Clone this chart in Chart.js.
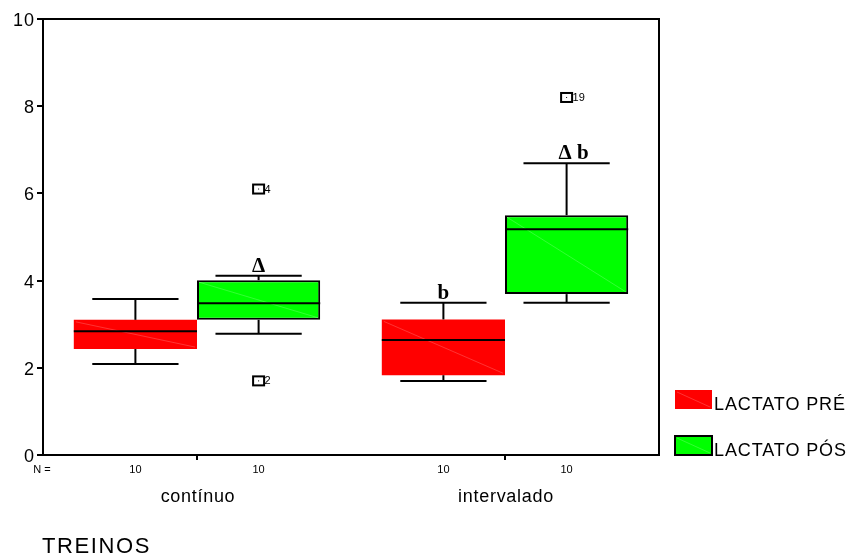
<!DOCTYPE html>
<html>
<head>
<meta charset="utf-8">
<script src="https://cdn.jsdelivr.net/npm/chart.js@4.4.1/dist/chart.umd.min.js"></script>
<style>
  html, body { margin: 0; padding: 0; background: #fff; }
  #wrap { width: 853px; height: 554px; position: relative; }
</style>
</head>
<body>
<div id="wrap"><canvas id="c" width="853" height="554"></canvas></div>
<script>
// ---- data ----
const categories = ['contínuo', 'intervalado'];
const seriesNames = ['LACTATO PRÉ', 'LACTATO PÓS'];
const axisTitle = 'TREINOS';
const yTicks = [0, 2, 4, 6, 8, 10];

const preMin = [2.09, 1.70];
const preQ1 = [2.43, 1.83];
const preMedian = [2.84, 2.64];
const preQ3 = [3.10, 3.11];
const preMax = [3.58, 3.49];
const preOutliers = [[], []];
const preN = [10, 10];
const preMarks = ['', 'b'];

const posMin = [2.78, 3.49];
const posQ1 = [3.10, 3.69];
const posMedian = [3.48, 5.18];
const posQ3 = [4.01, 5.50];
const posMax = [4.11, 6.69];
const posOutliers = [[{ v: 6.10, id: '4' }, { v: 1.70, id: '2' }], [{ v: 8.20, id: '19' }]];
const posN = [10, 10];
const posMarks = ['Δ', 'Δ b'];

const colors = ['#FF0000', '#00FF00'];

const groups = [
  { min: preMin, q1: preQ1, med: preMedian, q3: preQ3, max: preMax, out: preOutliers, n: preN, marks: preMarks },
  { min: posMin, q1: posQ1, med: posMedian, q3: posQ3, max: posMax, out: posOutliers, n: posN, marks: posMarks }
];

const font = '"Liberation Sans", Arial, sans-serif';

function line(ctx, x1, y1, x2, y2) {
  ctx.beginPath(); ctx.moveTo(x1, y1); ctx.lineTo(x2, y2); ctx.stroke();
}
function spaced(ctx, px) { try { ctx.letterSpacing = px + 'px'; } catch (e) {} }

const boxPlugin = {
  id: 'boxExtras',
  beforeDraw(chart) {
    spaced(chart.ctx, 1);
  },
  afterDatasetsDraw(chart) {
    const ctx = chart.ctx, ys = chart.scales.y, xs = chart.scales.x, area = chart.chartArea;
    ctx.save();
    spaced(ctx, 0);
    groups.forEach((g, di) => {
      const meta = chart.getDatasetMeta(di);
      meta.data.forEach((bar, i) => {
        const x = bar.x, w = bar.width, cap = w * 0.7;
        const yq1 = ys.getPixelForValue(g.q1[i]);
        const yq3 = ys.getPixelForValue(g.q3[i]);
        const ymed = ys.getPixelForValue(g.med[i]);
        const ymin = ys.getPixelForValue(g.min[i]);
        const ymax = ys.getPixelForValue(g.max[i]);
        ctx.strokeStyle = 'rgba(255,255,255,0.2)'; ctx.lineWidth = 1;
        line(ctx, x - w / 2 + 2, yq3 + 2, x + w / 2 - 2, yq1 - 2);
        ctx.strokeStyle = '#000'; ctx.lineWidth = 2;
        line(ctx, x, yq3, x, ymax);
        line(ctx, x - cap / 2, ymax, x + cap / 2, ymax);
        line(ctx, x, yq1, x, ymin);
        line(ctx, x - cap / 2, ymin, x + cap / 2, ymin);
        line(ctx, x - w / 2, ymed, x + w / 2, ymed);
        g.out[i].forEach(o => {
          const oy = ys.getPixelForValue(o.v);
          ctx.lineWidth = 2; ctx.strokeStyle = '#000';
          ctx.strokeRect(x - 5.5, oy - 4.5, 11, 9);
          ctx.fillStyle = '#000';
          ctx.fillRect(x - 0.5, oy - 0.5, 1, 1);
          ctx.font = '11px ' + font;
          ctx.textAlign = 'left'; ctx.textBaseline = 'middle';
          ctx.fillText(o.id, x + 6, oy + 0.5);
        });
        if (g.marks[i]) {
          ctx.fillStyle = '#000';
          ctx.font = 'bold 21px "Liberation Serif", "Times New Roman", serif';
          ctx.textAlign = 'center'; ctx.textBaseline = 'alphabetic';
          ctx.fillText(g.marks[i], x + (g.marks[i].length > 1 ? 7 : 0), ymax - 4);
        }
        ctx.fillStyle = '#000';
        ctx.font = '11px ' + font;
        ctx.textAlign = 'center'; ctx.textBaseline = 'middle';
        ctx.fillText(String(g.n[i]), x, area.bottom + 15);
      });
    });
    ctx.font = '11px ' + font;
    ctx.textAlign = 'center'; ctx.textBaseline = 'middle';
    ctx.fillText('N =', 42, area.bottom + 15);
    ctx.font = '18px ' + font;
    ctx.textAlign = 'center'; ctx.textBaseline = 'alphabetic';
    spaced(ctx, 0.7);
    categories.forEach((c, i) => {
      ctx.fillText(c, xs.getPixelForValue(i) + 1, area.bottom + 47);
    });
    ctx.font = '22px ' + font;
    ctx.textAlign = 'left';
    spaced(ctx, 1.6);
    ctx.fillText(axisTitle, area.left - 1, area.bottom + 98);
    spaced(ctx, 0);
    ctx.restore();
  },
  afterDraw(chart) {
    const ctx = chart.ctx, area = chart.chartArea;
    ctx.save();
    spaced(ctx, 0);
    ctx.strokeStyle = '#000'; ctx.lineWidth = 2;
    ctx.strokeRect(area.left, area.top, area.right - area.left, area.bottom - area.top);
    const lx = 675, lw = 37;
    const items = [{ y: 390, h: 19, border: false }, { y: 436, h: 19, border: true }];
    items.forEach((it, k) => {
      ctx.fillStyle = colors[k];
      ctx.fillRect(lx, it.y, lw, it.h);
      ctx.strokeStyle = 'rgba(255,255,255,0.2)'; ctx.lineWidth = 1;
      line(ctx, lx + 2, it.y + 2, lx + lw - 2, it.y + it.h - 2);
      if (it.border) {
        ctx.strokeStyle = '#000'; ctx.lineWidth = 2;
        ctx.strokeRect(lx, it.y, lw, it.h);
      }
      ctx.fillStyle = '#000';
      ctx.font = '18px ' + font;
      ctx.textAlign = 'left'; ctx.textBaseline = 'alphabetic';
      spaced(ctx, 0.9);
      ctx.fillText(seriesNames[k], 714, it.y + it.h + 1);
      spaced(ctx, 0);
    });
    ctx.restore();
  }
};

new Chart(document.getElementById('c'), {
  type: 'bar',
  data: {
    labels: categories,
    datasets: [
      {
        label: seriesNames[0],
        data: preQ1.map((q, i) => [q, preQ3[i]]),
        backgroundColor: colors[0],
        borderWidth: 0,
        borderSkipped: false
      },
      {
        label: seriesNames[1],
        data: posQ1.map((q, i) => [q, posQ3[i]]),
        backgroundColor: colors[1],
        borderColor: '#000',
        borderWidth: 2,
        borderSkipped: false
      }
    ]
  },
  options: {
    responsive: false,
    animation: false,
    devicePixelRatio: 1,
    layout: { padding: { top: 19, right: 194, bottom: 0, left: 0 } },
    datasets: { bar: { categoryPercentage: 0.8, barPercentage: 1.0 } },
    plugins: { legend: { display: false }, tooltip: { enabled: false } },
    scales: {
      x: {
        grid: { display: true, drawOnChartArea: false, drawTicks: true, tickLength: 5, offset: false, color: '#000', lineWidth: 2 },
        border: { display: true, color: '#000', width: 2 },
        ticks: { color: 'rgba(0,0,0,0)', font: { family: font, size: 15 }, padding: 26, maxRotation: 0 },
        title: { display: false },
        afterFit(s) { s.height = 99; }
      },
      y: {
        min: 0, max: 10,
        afterBuildTicks(s) { s.ticks = yTicks.map(v => ({ value: v })); },
        grid: { display: true, drawOnChartArea: false, drawTicks: true, tickLength: 6, color: '#000', lineWidth: 2 },
        border: { display: true, color: '#000', width: 2 },
        ticks: { color: '#000', font: { family: font, size: 18 }, padding: 2, labelOffset: 2 },
        afterFit(s) { s.width = 43; }
      }
    }
  },
  plugins: [boxPlugin]
});
</script>
</body>
</html>
